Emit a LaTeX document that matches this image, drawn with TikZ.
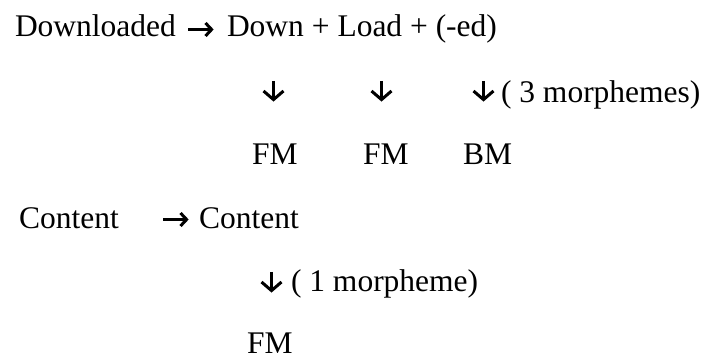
\documentclass[tikz,border=0pt]{standalone}
\usepackage{fontspec}
\setmainfont{Liberation Serif}
\begin{document}
\begin{tikzpicture}[x=1pt,y=1pt,
  txt/.style={anchor=base west,inner sep=0pt,outer sep=0pt,text depth=0pt,font=\fontsize{31.5}{36}\selectfont},
  arrowline/.style={line width=3pt,line join=miter,black}]
\useasboundingbox (0,0) rectangle (709,356);
% right arrow: x1, x2, y
\newcommand\myrarr[3]{%
  \draw[arrowline] (#1,#3) -- (#2-1.5,#3);
  \draw[arrowline] (#2-7.5,#3+6.5) -- (#2-1.4,#3) -- (#2-7.5,#3-6.5);}
% down arrow: x, ytop, ybottom
\newcommand\mydarr[3]{%
  \draw[arrowline] (#1,#2) -- (#1,#3+1.5);
  \draw[arrowline] (#1-10,#3+10) -- (#1,#3+1.4) -- (#1+10,#3+10);}
% row 1
\node[txt] (w1) at (15,319) {Downloaded};
\myrarr{188}{213}{326.5}
\node[txt] (p1) at (227,319) {Down + Load + (-ed)};
% row 2
\mydarr{273.5}{275}{255}
\mydarr{381.5}{275}{255}
\mydarr{483.5}{275}{255}
\node[txt] (c1) at (501,253) {( 3 morphemes)};
% row 3
\node[txt] (f1) at (252,191) {FM};
\node[txt] (f2) at (363,191) {FM};
\node[txt] (b1) at (463,191) {BM};
% row 4
\node[txt] (w2) at (19,127) {Content};
\myrarr{163}{188}{136.5}
\node[txt] (p2) at (199,127) {Content};
% row 5
\mydarr{271.5}{84}{64}
\node[txt] (c2) at (291,64) {( 1 morpheme)};
% row 6
\node[txt] (f3) at (247,3) {FM};
\end{tikzpicture}
\end{document}
